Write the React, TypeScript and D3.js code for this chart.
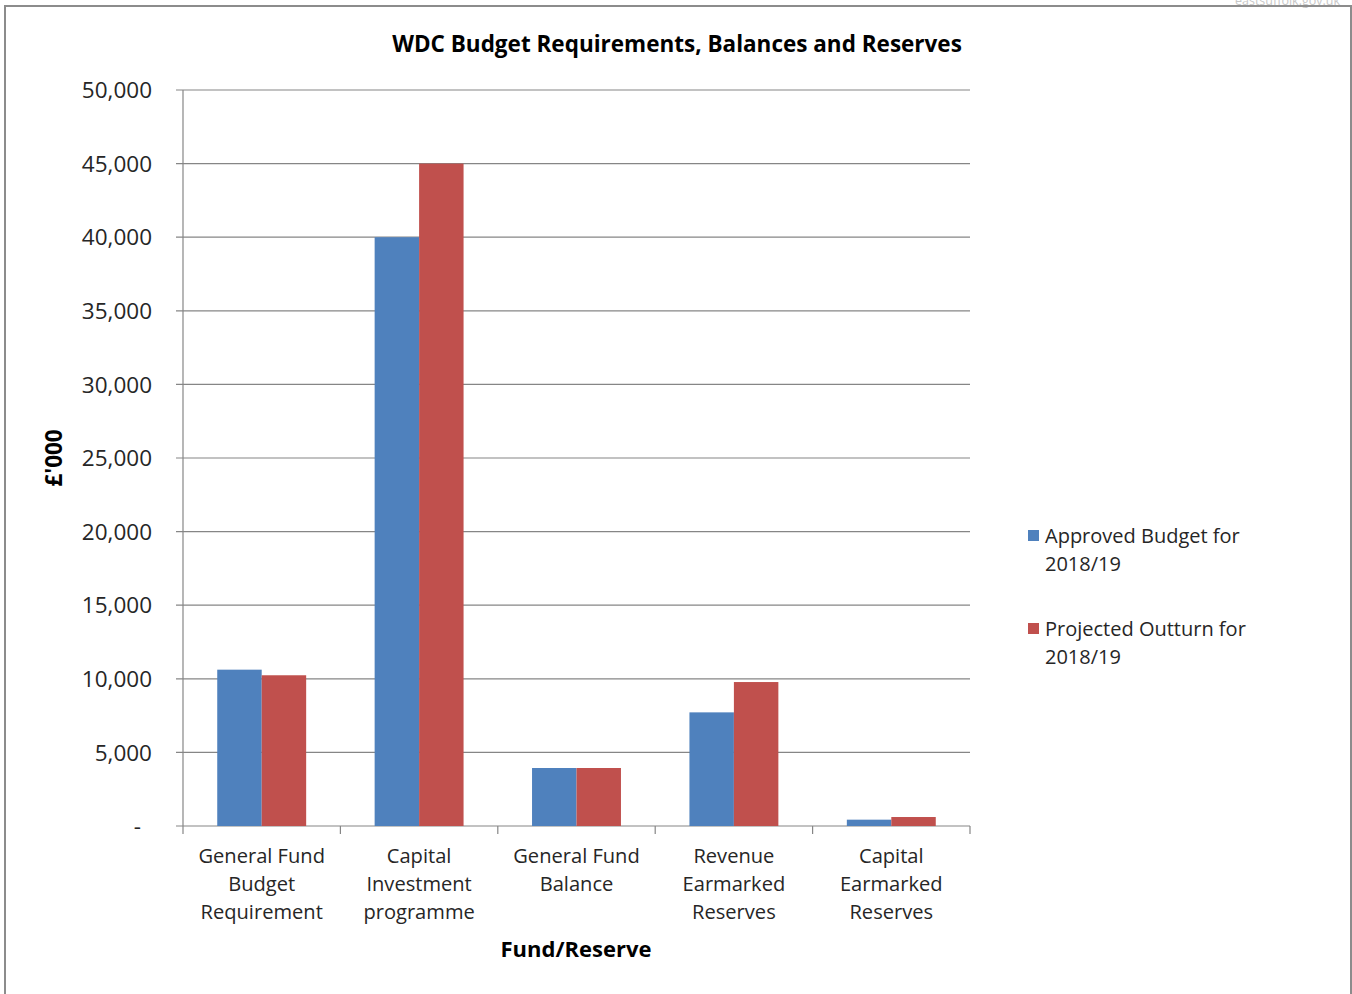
import React from "react";
import * as d3 from "d3";

const categories: string[][] = [
  ["General Fund", "Budget", "Requirement"],
  ["Capital", "Investment", "programme"],
  ["General Fund", "Balance"],
  ["Revenue", "Earmarked", "Reserves"],
  ["Capital", "Earmarked", "Reserves"],
];
const seriesNames = ["Approved Budget for 2018/19", "Projected Outturn for 2018/19"];
const legendLines: string[][] = [
  ["Approved Budget for", "2018/19"],
  ["Projected Outturn for", "2018/19"],
];
const approvedBudget = [10620, 40000, 3940, 7720, 430];
const projectedOutturn = [10240, 45000, 3940, 9780, 610];
const yTicks = [0, 5000, 10000, 15000, 20000, 25000, 30000, 35000, 40000, 45000, 50000];
const colors = ["#4F81BD", "#C0504D"];

const FONT = "'Open Sans', sans-serif";
const TEXT = "#262626";
const GRID = "#868686";

export default function App() {
  const width = 1352;
  const height = 994;
  const plot = { left: 183, right: 970, top: 90, bottom: 826 };

  const catKeys = categories.map((c) => c.join(" "));
  const x0 = d3.scaleBand<string>().domain(catKeys).range([plot.left, plot.right]).paddingInner(0).paddingOuter(0);
  const x1 = d3
    .scaleBand<string>()
    .domain(seriesNames)
    .range([0, x0.bandwidth()])
    .paddingInner(0)
    .paddingOuter(0.77);
  const y = d3.scaleLinear().domain([0, 50000]).range([plot.bottom, plot.top]);
  const fmt = d3.format(",");
  const values = [approvedBudget, projectedOutturn];
  const boundaries = catKeys.map((k) => x0(k) as number).concat([plot.right]);

  return (
    <svg
      width={width}
      height={height}
      style={{ position: "absolute", left: 0, top: 0, background: "#fff" }}
      fontFamily={FONT}
    >
      <rect x={0} y={0} width={width} height={height} fill="#fff" />
      <text x={1340} y={5} textAnchor="end" fontSize={12.5} fill="#c8c8c8">
        eastsuffolk.gov.uk
      </text>
      <rect x={5} y={6} width={1346} height={1000} fill="none" stroke="#8c8c8c" strokeWidth={2} />

      <text x={677} y={52} textAnchor="middle" fontSize={22.5} fontWeight="bold" fill="#000">
        WDC Budget Requirements, Balances and Reserves
      </text>

      {/* gridlines and y ticks */}
      {yTicks.map((t) => (
        <g key={t}>
          <line x1={plot.left - 7} x2={plot.right} y1={y(t)} y2={y(t)} stroke={GRID} strokeWidth={1.2} />
          <text
            x={t === 0 ? 141 : 152}
            y={y(t)}
            dy="0.36em"
            textAnchor="end"
            fontSize={22.5}
            fill={TEXT}
          >
            {t === 0 ? "-" : fmt(t)}
          </text>
        </g>
      ))}
      <line x1={plot.left} x2={plot.left} y1={plot.top} y2={plot.bottom} stroke={GRID} strokeWidth={1.2} />
      {boundaries.map((b, i) => (
        <line key={i} x1={b} x2={b} y1={plot.bottom} y2={plot.bottom + 8} stroke={GRID} strokeWidth={1.2} />
      ))}

      {/* bars */}
      {catKeys.map((k, ci) => (
        <g key={k} transform={`translate(${x0(k)},0)`}>
          {seriesNames.map((s, si) => (
            <rect
              key={s}
              x={x1(s)}
              y={y(values[si][ci])}
              width={x1.bandwidth()}
              height={plot.bottom - y(values[si][ci])}
              fill={colors[si]}
            />
          ))}
        </g>
      ))}

      {/* category labels */}
      {categories.map((lines, ci) => {
        const cx = (x0(catKeys[ci]) as number) + x0.bandwidth() / 2;
        return (
          <text key={ci} x={cx} textAnchor="middle" fontSize={20.1} fill={TEXT}>
            {lines.map((l, li) => (
              <tspan key={li} x={cx} y={862.5 + li * 28}>
                {l}
              </tspan>
            ))}
          </text>
        );
      })}

      <text x={576} y={957} textAnchor="middle" fontSize={22} fontWeight="bold" fill="#000">
        Fund/Reserve
      </text>
      <text
        transform="translate(62,458) rotate(-90)"
        textAnchor="middle"
        fontSize={22.5}
        fontWeight="bold"
        fill="#000"
      >
        £'000
      </text>

      {/* legend */}
      {legendLines.map((lines, i) => (
        <g key={i} transform={`translate(1028,${530 + i * 93})`}>
          <rect x={0} y={0} width={11} height={11} fill={colors[i]} />
          <text x={17} fontSize={20} fill={TEXT}>
            {lines.map((l, li) => (
              <tspan key={li} x={17} y={13 + li * 28}>
                {l}
              </tspan>
            ))}
          </text>
        </g>
      ))}
    </svg>
  );
}
